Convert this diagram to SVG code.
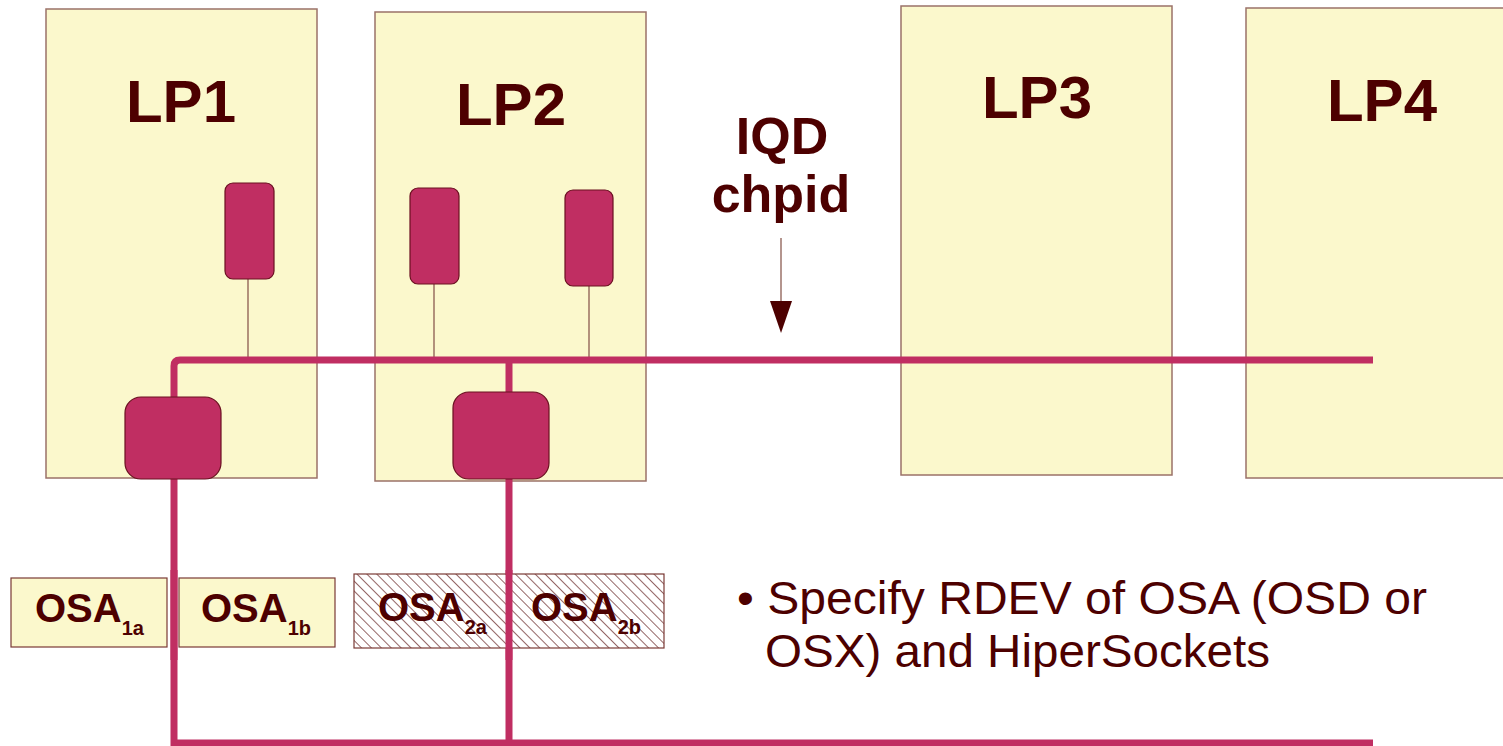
<svg xmlns="http://www.w3.org/2000/svg" width="1503" height="746" viewBox="0 0 1503 746">
<defs>
<style>
.lp{fill:#fbf8cc;stroke:#9b7268;stroke-width:1.5}
.osa{fill:#fbf8cc;stroke:#7a3a35;stroke-width:1.2}
.hatch{fill:url(#h);stroke:#7a3a35;stroke-width:1.2}
.dev{fill:#c02e62;stroke:#6a1020;stroke-width:1.2}
.bus{fill:none;stroke:#c02e62;stroke-width:7}
.thin{stroke:#8a5a50;stroke-width:1.3}
.t{font-family:"Liberation Sans",Arial,sans-serif;fill:#4d0000}
.big{font-size:60px;font-weight:bold}
.mid{font-size:52px;font-weight:bold}
.o{font-size:40px;font-weight:bold}
.sub{font-size:20px;font-weight:bold}
.b{font-size:46px}
</style>
<pattern id="h" patternUnits="userSpaceOnUse" width="7" height="7" patternTransform="rotate(-45)">
<rect width="7" height="7" fill="#ffffff"/>
<line x1="0" y1="0" x2="0" y2="7" stroke="#4d0000" stroke-width="1.2"/>
</pattern>
</defs>
<g id="lp1"><rect class="lp" x="46" y="9" width="271" height="469"/><text class="t big" x="181" y="122" text-anchor="middle">LP1</text></g>
<g id="lp2"><rect class="lp" x="375" y="12" width="271" height="469"/><text class="t big" x="511" y="125" text-anchor="middle">LP2</text></g>
<g id="lp3"><rect class="lp" x="901" y="6" width="271" height="469"/><text class="t big" x="1037" y="118" text-anchor="middle">LP3</text></g>
<g id="lp4"><rect class="lp" x="1246" y="8" width="271" height="470"/><text class="t big" x="1382" y="121" text-anchor="middle">LP4</text></g>
<g id="connectors">
<line class="thin" x1="248" y1="279" x2="248" y2="360"/>
<line class="thin" x1="434" y1="284" x2="434" y2="360"/>
<line class="thin" x1="589" y1="286" x2="589" y2="360"/>
<path class="bus" d="M1373,360 H180 Q174,360 174,366 V743 H1373"/>
<line class="bus" x1="509" y1="360" x2="509" y2="743"/>
<line x1="781" y1="238" x2="781" y2="302" stroke="#9b7268" stroke-width="1.5"/>
<polygon points="770,301 792,301 781,333" fill="#4d0000"/>
</g>
<g id="dev1"><rect class="dev" x="225" y="183" width="49" height="96" rx="8"/></g>
<g id="dev2"><rect class="dev" x="410" y="188" width="49" height="96" rx="8"/></g>
<g id="dev3"><rect class="dev" x="565" y="190" width="48" height="96" rx="8"/></g>
<g id="osa-lp1"><rect class="dev" x="125" y="397" width="96" height="82" rx="16"/></g>
<g id="osa-lp2"><rect class="dev" x="453" y="392" width="96" height="87" rx="16"/></g>
<g id="label-iqd">
<text class="t mid" x="782" y="154" text-anchor="middle">IQD</text>
<text class="t mid" x="781" y="212" text-anchor="middle">chpid</text>
</g>
<g id="osa1a"><rect class="osa" x="11" y="578" width="156" height="69"/><text class="t" x="35" y="622"><tspan class="o">OSA</tspan><tspan class="sub" dy="13">1a</tspan></text></g>
<g id="osa1b"><rect class="osa" x="179" y="578" width="156" height="69"/><text class="t" x="201" y="622"><tspan class="o">OSA</tspan><tspan class="sub" dy="13">1b</tspan></text></g>
<g id="osa2a"><rect class="hatch" x="354" y="574" width="155" height="74"/><text class="t" x="378" y="621"><tspan class="o">OSA</tspan><tspan class="sub" dy="13">2a</tspan></text></g>
<g id="osa2b"><rect class="hatch" x="509" y="574" width="155" height="74"/><text class="t" x="531" y="621"><tspan class="o">OSA</tspan><tspan class="sub" dy="13">2b</tspan></text></g>
<line class="bus" x1="174" y1="570" x2="174" y2="660"/>
<line class="bus" x1="509" y1="570" x2="509" y2="660"/>
<g id="note">
<text class="t b" x="737" y="614" textLength="690" lengthAdjust="spacingAndGlyphs">• Specify RDEV of OSA (OSD or</text>
<text class="t b" x="765" y="667" textLength="505" lengthAdjust="spacingAndGlyphs">OSX) and HiperSockets</text>
</g>
</svg>
